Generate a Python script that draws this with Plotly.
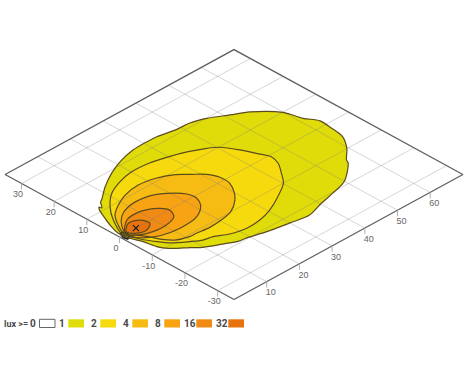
import plotly.graph_objects as go

# lux contours, in metres on the ground plane
lux_1_x = [0.9, 1.9, 3.3, 4.6, 5.2, 5.5, 6.9, 7.6, 11.9, 16.7, 21.2, 26.4, 30.9, 33.8, 38.9, 42.7, 46.6, 51.1, 55.0, 59.9, 61.3, 63.2, 62.9, 62.2, 59.6, 56.3, 55.7, 50.1, 45.0, 40.3, 35.2, 30.0, 24.0, 19.2, 16.9, 14.5, 9.8, 7.8, 5.3, 3.6, 3.0, 2.3, 1.2]
lux_1_y = [1.4, 4.8, 8.1, 10.8, 11.5, 10.9, 12.7, 13.1, 16.3, 19.1, 21.0, 22.3, 22.5, 22.4, 21.4, 21.2, 19.9, 17.3, 15.1, 9.9, 5.2, 1.9, -2.0, -6.0, -9.9, -13.1, -14.2, -18.7, -20.3, -21.4, -22.9, -22.1, -21.0, -19.7, -19.3, -18.1, -15.6, -13.7, -11.7, -9.7, -8.4, -4.9, -1.9]
lux_2_x = [1.1, 3.8, 7.0, 11.0, 15.5, 20.1, 25.0, 29.9, 34.4, 38.2, 40.5, 42.8, 44.7, 45.7, 44.9, 42.6, 40.1, 35.5, 30.5, 26.2, 21.9, 17.7, 14.4, 11.9, 9.4, 6.3, 4.4, 2.6, 1.9]
lux_2_y = [0.0, 5.7, 9.9, 13.4, 15.4, 16.4, 16.2, 15.0, 13.4, 11.5, 9.8, 6.0, 1.7, -0.7, -3.6, -6.9, -10.0, -12.9, -15.4, -16.7, -17.0, -16.0, -14.2, -13.6, -12.0, -9.6, -7.0, -3.7, -1.3]
lux_4_x = [1.4, 3.1, 5.4, 8.7, 12.6, 17.4, 21.8, 26.0, 28.5, 30.9, 32.1, 31.9, 30.2, 28.0, 24.1, 20.3, 16.5, 12.8, 10.8, 7.6, 5.8, 4.5, 2.9]
lux_4_y = [-0.3, 3.5, 6.8, 9.1, 10.9, 11.7, 11.0, 9.0, 6.6, 4.2, 1.4, -1.8, -4.8, -7.3, -9.9, -10.8, -11.1, -10.7, -10.6, -9.3, -7.1, -4.3, -1.8]
lux_8_x = [1.6, 3.4, 6.2, 9.7, 15.4, 19.4, 22.3, 22.7, 21.1, 17.5, 11.7, 6.5, 2.9]
lux_8_y = [-1.0, 2.7, 5.5, 7.1, 7.1, 5.0, 1.8, -0.8, -3.7, -6.1, -6.8, -5.8, -3.4]
lux_16_x = [1.9, 5.8, 9.3, 13.7, 15.2, 14.0, 10.5, 6.6, 3.1]
lux_16_y = [0.2, 3.6, 4.1, 2.3, -0.1, -2.6, -3.8, -3.6, -2.0]
lux_32_x = [2.5, 5.2, 7.9, 8.5, 6.1, 3.4]
lux_32_y = [0.5, 2.5, 1.6, -0.8, -2.2, -1.3]
near_x = [1.2, 2.2, 1.9, 0.7, 0.4]
near_y = [1.1, 0.5, -1.3, -1.8, -0.7]
lamp_x = [5]
lamp_y = [0]

x_ticks = [10, 20, 30, 40, 50, 60]
y_ticks = [30, 20, 10, 0, -10, -20, -30]
legend_levels = ['0', '1', '2', '4', '8', '16', '32']
legend_colors = ['#ffffff', '#e0dc0a', '#f6da0e', '#f6bc14', '#f7a313', '#f08a14', '#e8720e']

fig = go.Figure()


# ground plane seen from above, dropped is screen px straight down
def project(x, y, drop=0):
    return 234 + 3.27 * (x - y - 35), 299.5 - 1.785 * (x + y + 35) + drop


def add_path(xs, ys, close=False, drop=0, **kwargs):
    pts = [project(a, b, drop) for a, b in zip(xs, ys)]
    if close:
        pts.append(pts[0])
    fig.add_trace(go.Scatter(x=[p[0] for p in pts], y=[p[1] for p in pts], mode='lines',
                             hoverinfo='skip', showlegend=False, **kwargs))


contours = [(lux_1_x, lux_1_y), (lux_2_x, lux_2_y), (lux_4_x, lux_4_y),
            (lux_8_x, lux_8_y), (lux_16_x, lux_16_y), (lux_32_x, lux_32_y)]

for (xs, ys), color in zip(contours, legend_colors[1:]):
    add_path(xs, ys, close=True, fill='toself', fillcolor=color, line=dict(width=0, shape='spline', smoothing=0.9))
add_path(near_x, near_y, close=True, fill='toself', fillcolor='#b5b020', line=dict(color='#222222', width=1.6))

# grid shows through the fills
grid = dict(color='rgba(120,120,120,0.3)', width=1)
for t in x_ticks:
    add_path([t, t], [-35, 35], line=grid)
for t in y_ticks:
    add_path([0, 70], [t, t], line=grid)

for xs, ys in contours:
    add_path(xs, ys, close=True, line=dict(color='#5c4c1c', width=1.2, shape='spline', smoothing=0.9))

add_path([0, 70, 70, 0], [-35, -35, 35, 35], close=True, line=dict(color='#5f5f5f', width=1.3))

tick_line = dict(color='#b0b0b0', width=1)
for t in x_ticks:
    a = project(t, -35)
    fig.add_trace(go.Scatter(x=[a[0], a[0]], y=[a[1], a[1] + 6], mode='lines', line=tick_line,
                             hoverinfo='skip', showlegend=False))
for t in y_ticks:
    a = project(0, t)
    fig.add_trace(go.Scatter(x=[a[0], a[0]], y=[a[1], a[1] + 6], mode='lines', line=tick_line,
                             hoverinfo='skip', showlegend=False))

tick_font = dict(family='Liberation Sans', size=9, color='#666666')
x_pos = [project(t, -35, 11.5) for t in x_ticks]
fig.add_trace(go.Scatter(x=[p[0] + 4 for p in x_pos], y=[p[1] for p in x_pos], mode='text',
                         text=[str(t) for t in x_ticks], textfont=tick_font,
                         hoverinfo='skip', showlegend=False))
y_pos = [project(0, t, 11.5) for t in y_ticks]
fig.add_trace(go.Scatter(x=[p[0] - 3.5 for p in y_pos], y=[p[1] for p in y_pos], mode='text',
                         text=[str(t) for t in y_ticks], textfont=tick_font,
                         hoverinfo='skip', showlegend=False))

# lamp position
lamp = [project(a, b) for a, b in zip(lamp_x, lamp_y)]
fig.add_trace(go.Scatter(x=[p[0] for p in lamp], y=[p[1] for p in lamp], mode='markers',
                         marker=dict(symbol='x-thin', size=6, line=dict(color='#1a1a1a', width=1.2)),
                         hoverinfo='skip', showlegend=False))

# legend along the bottom
legend_font = dict(family='Roboto', size=10, color='#4a4a4a')
annotations = [dict(x=2, y=323.5, text='<b>lux &gt;=</b>', showarrow=False, xanchor='left',
                    font=dict(family='Roboto', size=9, color='#4a4a4a'))]
shapes = []
for i, (level, color) in enumerate(zip(legend_levels, legend_colors)):
    annotations.append(dict(x=(32.7 if i == 0 else 29.5 + 32 * i), y=323.5, text='<b>' + level + '</b>',
                            showarrow=False, font=legend_font))
    line = dict(color='#666666', width=1) if i == 0 else dict(width=0)
    shapes.append(dict(type='rect', x0=39.5 + 32 * i - (0 if i == 0 else 3.2), x1=55 + 32 * i - (0 if i == 0 else 3),
                       y0=319.3, y1=327.5, fillcolor=color, line=line))

fig.update_layout(
    width=467, height=376,
    margin=dict(l=0, r=0, t=0, b=0),
    paper_bgcolor='white', plot_bgcolor='white',
    xaxis=dict(range=[0, 467], visible=False),
    yaxis=dict(range=[376, 0], visible=False),
    annotations=annotations, shapes=shapes,
)
fig.write_html("out.html", config=dict(displayModeBar=False),
               post_script="document.body.style.margin='0';document.body.style.overflow='hidden';")
